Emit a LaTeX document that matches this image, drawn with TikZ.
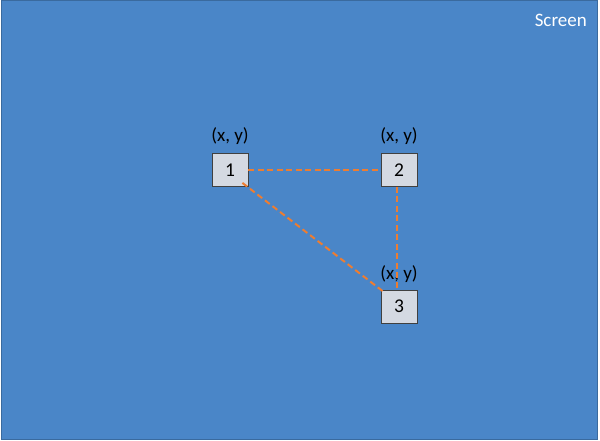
\documentclass[tikz,border=0pt]{standalone}
\usepackage{fontspec}
\setmainfont{Carlito}
\usetikzlibrary{calc}
\definecolor{scr}{HTML}{4A86C8}
\definecolor{scrb}{HTML}{3A6A9E}
\definecolor{boxf}{HTML}{D4D9E2}
\definecolor{org}{HTML}{ED7D31}
\tikzset{
  pt/.style={draw=black!75, fill=boxf, line width=0.8pt, minimum width=36pt, minimum height=33pt, inner sep=0pt, font=\fontsize{19.5}{22}\selectfont},
  lbl/.style={font=\fontsize{19}{22}\selectfont, text=black, inner sep=0pt},
  link/.style={draw=org, line width=2pt, dash pattern=on 6pt off 3.5pt}
}
\begin{document}
\begin{tikzpicture}[x=1pt,y=-1pt]
\useasboundingbox (0,0) rectangle (600,441);
\node[draw=scrb, fill=scr, line width=1pt, minimum width=596pt, minimum height=438pt, anchor=north west, inner sep=0pt] (screen) at (0.5,0.5) {};
\node[text=white, font=\fontsize{19}{22}\selectfont, anchor=east, inner sep=0pt] (title) at (587,20) {Screen};
\node[pt] (n1) at (230,170) {1};
\node[pt] (n2) at (399,170) {2};
\node[pt] (n3) at (399,306.5) {3};
\node[lbl] (l1) at (230,136) {(x, y)};
\node[lbl] (l2) at (399,136) {(x, y)};
\node[lbl] (l3) at (399,274) {(x, y)};
\coordinate (a1) at ($(n1.south east)+(-6,-4)$);
\coordinate (a3) at ($(n3.north west)+(4,3)$);
\coordinate (b3) at ($(n3.north)+(-2,0)$);
\coordinate (b2) at ($(n2.south)+(-2,0)$);
\draw[link] (n1.east) -- (n2.west);
\draw[link] (b2) -- (b3);
\draw[link] (a1) -- (a3);
\end{tikzpicture}
\end{document}
